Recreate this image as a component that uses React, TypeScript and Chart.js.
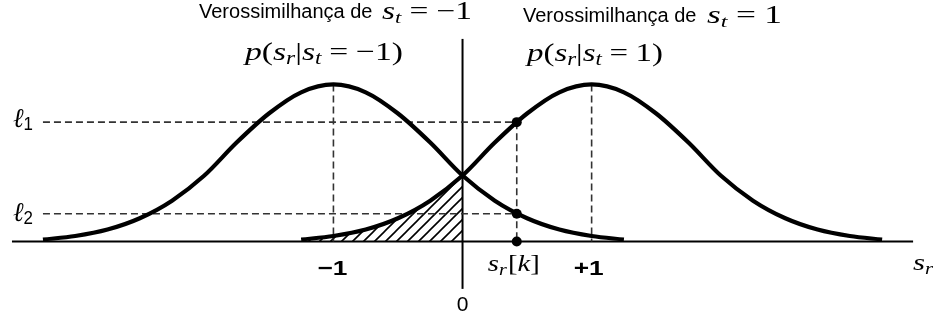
import { useEffect, useRef } from "react";
import { Chart, registerables } from "chart.js";

Chart.register(...registerables);

// Offsets from each class mean (units of s_r) and the normalised likelihood at each offset
const offsets = [-2.25, -2, -1.75, -1.5, -1.25, -1, -0.75, -0.5, -0.25, 0, 0.25, 0.5, 0.75, 1, 1.25, 1.5, 1.75, 2, 2.25];
const heights = [0.012, 0.035, 0.076, 0.148, 0.26, 0.42, 0.63, 0.815, 0.95, 1, 0.95, 0.815, 0.63, 0.42, 0.26, 0.148, 0.076, 0.035, 0.012];
const means = [-1, 1];

// Received sample s_r[k] and the two likelihood levels it produces
const sample = 0.42;
const ell1 = 0.76;
const ell2 = 0.177;

// Visible window and axis extents
const xRange = [-3.544, 3.621];
const yRange = [-0.481, 1.506];
const xAxisSpan = [-3.49, 3.49];
const yAxisSpan = [-0.302, 1.29];
const guideStart = -3.25;

const SERIF = '"Liberation Serif", "DejaVu Serif", serif';
const SANS = '"Liberation Sans", Arial, sans-serif';
const si = (px: number) => `italic ${px}px ${SERIF}`;
const sr = (px: number) => `${px}px ${SERIF}`;
const ss = (px: number, w = "normal") => `${w} ${px}px ${SANS}`;

type Run = { text: string; font: string; dy?: number; pre?: number };

// Draws a run of mixed-font text, stretched horizontally to fill [left, left + width]
function drawFit(ctx: CanvasRenderingContext2D, runs: Run[], left: number, width: number, baseline: number) {
  let natural = 0;
  const ws = runs.map((r) => {
    ctx.font = r.font;
    const w = ctx.measureText(r.text).width;
    natural += w + (r.pre ?? 0);
    return w;
  });
  const sx = width / natural;
  ctx.save();
  ctx.translate(left, baseline);
  ctx.scale(sx, 1);
  let cx = 0;
  runs.forEach((r, i) => {
    cx += r.pre ?? 0;
    ctx.font = r.font;
    ctx.fillText(r.text, cx, r.dy ?? 0);
    cx += ws[i];
  });
  ctx.restore();
}

function hatchPattern(): CanvasPattern | string {
  const n = 11;
  const c = document.createElement("canvas");
  c.width = n;
  c.height = n;
  const g = c.getContext("2d");
  if (!g) return "rgba(0,0,0,0.3)";
  g.strokeStyle = "#000";
  g.lineWidth = 1.6;
  g.beginPath();
  g.moveTo(-2, n + 2);
  g.lineTo(n + 2, -2);
  g.moveTo(-2, 2);
  g.lineTo(2, -2);
  g.moveTo(n - 2, n + 2);
  g.lineTo(n + 2, n - 2);
  g.stroke();
  return g.createPattern(c, "repeat") ?? "rgba(0,0,0,0.3)";
}

const labelsPlugin = {
  id: "diagramLabels",
  afterDatasetsDraw(chart: Chart) {
    const ctx = chart.ctx;
    const xs = chart.scales.x;
    const ys = chart.scales.y;
    const px = (v: number) => xs.getPixelForValue(v);
    const py = (v: number) => ys.getPixelForValue(v);
    ctx.save();
    ctx.fillStyle = "#000";
    ctx.textBaseline = "alphabetic";
    ctx.textAlign = "left";

    // Titles above each likelihood
    ctx.font = ss(20);
    ctx.fillText("Verossimilhança de", 199, 18);
    ctx.fillText("Verossimilhança de", 523, 22);
    drawFit(ctx, [
      { text: "s", font: si(25) },
      { text: "t", font: si(17), dy: 4 },
      { text: "=", font: sr(25), pre: 6 },
      { text: "\u22121", font: sr(25), pre: 6 },
    ], 382, 90, 19);
    drawFit(ctx, [
      { text: "s", font: si(25) },
      { text: "t", font: si(17), dy: 4 },
      { text: "=", font: sr(25), pre: 6 },
      { text: "1", font: sr(25), pre: 6 },
    ], 707, 75, 23);

    const cond = (v: string): Run[] => [
      { text: "p", font: si(26) },
      { text: "(", font: sr(26) },
      { text: "s", font: si(26) },
      { text: "r", font: si(18), dy: 4 },
      { text: "|", font: sr(26) },
      { text: "s", font: si(26) },
      { text: "t", font: si(18), dy: 4 },
      { text: "=", font: sr(26), pre: 6 },
      { text: v, font: sr(26), pre: 6 },
      { text: ")", font: sr(26) },
    ];
    drawFit(ctx, cond("\u22121"), 245, 158, 60);
    drawFit(ctx, cond("1"), 527, 136, 61);

    // Axis labels
    const base = py(0);
    drawFit(ctx, [{ text: "\u22121", font: ss(21, "bold") }], px(-1) - 16, 30, base + 34);
    drawFit(ctx, [{ text: "+1", font: ss(21, "bold") }], px(1) - 18, 30, base + 34);
    drawFit(ctx, [
      { text: "s", font: si(23) },
      { text: "r", font: si(16), dy: 4 },
      { text: "[", font: sr(23), pre: 1 },
      { text: "k", font: si(23) },
      { text: "]", font: sr(23) },
    ], px(sample) - 29, 52, base + 30);
    drawFit(ctx, [
      { text: "s", font: si(24) },
      { text: "r", font: si(16), dy: 4 },
    ], 913, 20, base + 29);
    ctx.font = ss(21);
    ctx.textAlign = "center";
    ctx.fillText("0", px(0), base + 70);
    ctx.textAlign = "left";

    // Likelihood level labels
    const ellRuns = (n: string): Run[] => [
      { text: "\u2113", font: si(27) },
      { text: n, font: ss(18), dy: 3 },
    ];
    drawFit(ctx, ellRuns("1"), 13, 20, py(ell1) + 5);
    drawFit(ctx, ellRuns("2"), 13, 20, py(ell2) + 7);
    ctx.restore();
  },
};

export default function App() {
  const ref = useRef<HTMLCanvasElement | null>(null);

  useEffect(() => {
    document.body.style.margin = "0";
    const canvas = ref.current;
    if (!canvas) return;

    const curves = means.map((m) => offsets.map((d, i) => ({ x: m + d, y: heights[i] })));
    const hatched = curves[1].filter((p) => p.x <= 0);
    const dash = { borderColor: "#333", borderWidth: 1.6, borderDash: [7, 4], pointRadius: 0, showLine: true, fill: false };
    const curveStyle = { borderColor: "#000", borderWidth: 4.2, pointRadius: 0, showLine: true, cubicInterpolationMode: "monotone" as const, fill: false };

    const chart = new Chart(canvas, {
      type: "scatter",
      data: {
        datasets: [
          {
            data: [{ x: sample, y: ell1 }, { x: sample, y: ell2 }, { x: sample, y: 0 }],
            pointRadius: 5,
            pointBackgroundColor: "#000",
            pointBorderWidth: 0,
            showLine: false,
          },
          { data: curves[0], ...curveStyle },
          { data: curves[1], ...curveStyle },
          { data: [{ x: guideStart, y: ell1 }, { x: sample, y: ell1 }], ...dash },
          { data: [{ x: guideStart, y: ell2 }, { x: sample, y: ell2 }], ...dash },
          { data: [{ x: sample, y: ell1 }, { x: sample, y: 0 }], ...dash },
          { data: [{ x: means[0], y: 1 }, { x: means[0], y: 0 }], ...dash },
          { data: [{ x: means[1], y: 1 }, { x: means[1], y: 0 }], ...dash },
          { data: [{ x: xAxisSpan[0], y: 0 }, { x: xAxisSpan[1], y: 0 }], borderColor: "#000", borderWidth: 2, pointRadius: 0, showLine: true },
          { data: [{ x: 0, y: yAxisSpan[0] }, { x: 0, y: yAxisSpan[1] }], borderColor: "#000", borderWidth: 2, pointRadius: 0, showLine: true },
          {
            data: hatched,
            borderWidth: 0,
            pointRadius: 0,
            showLine: true,
            cubicInterpolationMode: "monotone",
            fill: "origin",
            backgroundColor: hatchPattern(),
          },
        ],
      },
      options: {
        responsive: false,
        animation: false,
        events: [],
        layout: { padding: 0 },
        plugins: { legend: { display: false }, tooltip: { enabled: false } },
        scales: {
          x: { type: "linear", min: xRange[0], max: xRange[1], display: false },
          y: { type: "linear", min: yRange[0], max: yRange[1], display: false },
        },
      },
      plugins: [labelsPlugin],
    } as any);

    return () => chart.destroy();
  }, []);

  return (
    <div style={{ width: 935, height: 322, background: "#fff" }}>
      <canvas ref={ref} width={935} height={322} style={{ display: "block" }} />
    </div>
  );
}
